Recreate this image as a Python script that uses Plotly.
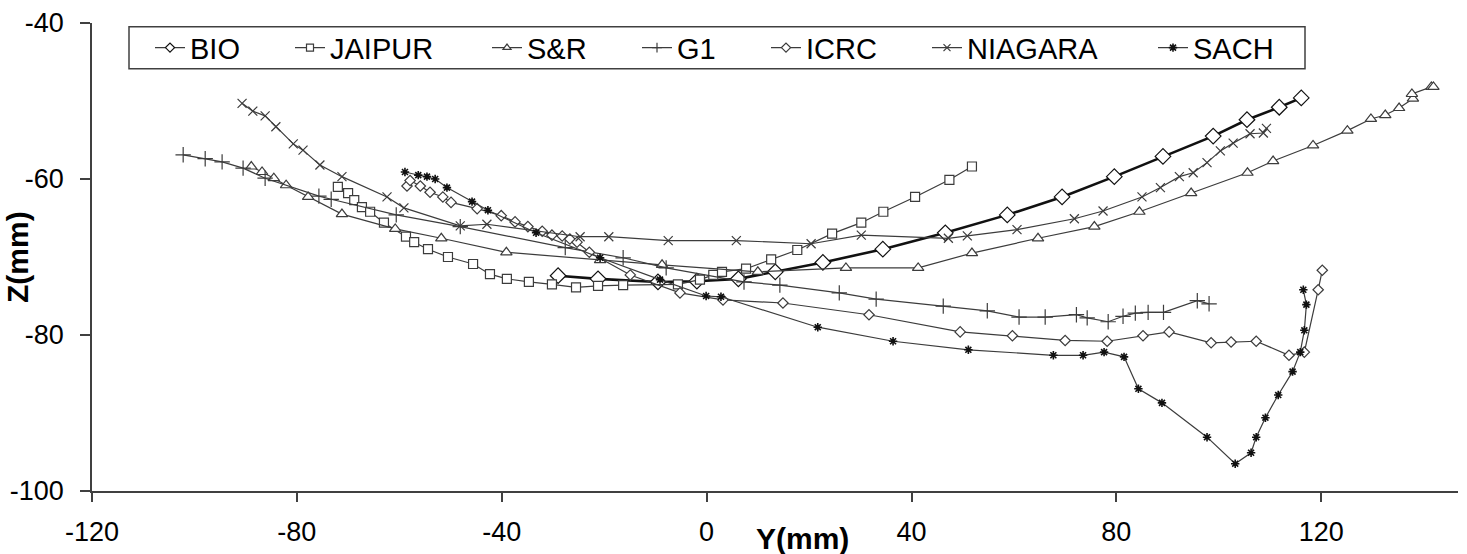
import plotly.graph_objects as go

# ---------------- data (Y in mm, Z in mm) ----------------
series_names = ["BIO", "JAIPUR", "S&R", "G1", "ICRC", "NIAGARA", "SACH"]

BIO_Y = [-29.0, -21.2, -9.5, -1.9, 6.2, 13.4, 22.7, 34.4, 46.6, 58.7, 69.4, 79.6, 89.1, 98.9, 105.5, 111.8, 116.1]
BIO_Z = [-72.4, -72.8, -73.2, -73.1, -72.8, -71.9, -70.7, -69.0, -66.9, -64.6, -62.3, -59.7, -57.1, -54.5, -52.4, -50.8, -49.6]

JAIPUR_Y = [-72.0, -70.0, -68.8, -67.3, -65.7, -63.0, -58.7, -57.1, -54.4, -50.5, -45.6, -42.3, -39.0, -34.7, -30.2,
            -25.5, -21.2, -16.3, -5.6, -1.3, 1.3, 3.0, 7.7, 12.6, 17.7, 24.5, 30.2, 34.5, 40.7, 47.4, 51.8]
JAIPUR_Z = [-61.0, -61.8, -62.7, -63.6, -64.2, -65.6, -67.4, -68.1, -69.0, -70.0, -70.9, -72.2, -72.8, -73.2, -73.5,
            -73.9, -73.7, -73.6, -73.5, -72.9, -72.3, -71.9, -71.5, -70.3, -69.1, -67.0, -65.6, -64.2, -62.3, -60.1, -58.4]

SR_Y = [-88.9, -86.8, -84.5, -82.1, -77.8, -71.2, -60.8, -51.8, -39.1, -20.8, -8.7, 10.0, 27.2, 41.3, 51.8,
        64.7, 75.7, 84.5, 94.6, 105.6, 110.6, 118.4, 125.1, 129.7, 132.5, 135.2, 137.9, 137.7, 141.5, 141.9]
SR_Z = [-58.4, -59.1, -59.9, -60.8, -62.3, -64.5, -66.4, -67.6, -69.4, -70.4, -71.0, -71.9, -71.4, -71.4, -69.5,
        -67.6, -66.1, -64.2, -61.8, -59.2, -57.7, -55.7, -53.8, -52.3, -51.8, -50.9, -49.7, -49.1, -48.2, -48.2]

G1_Y = [-102.2, -97.9, -94.6, -90.5, -86.2, -75.7, -73.3, -60.6, -48.1, -27.6, -16.3, -7.9, 7.3, 14.3, 25.9,
        33.1, 46.2, 54.8, 61.0, 66.1, 72.2, 74.3, 78.4, 81.3, 83.7, 86.2, 89.2, 95.8, 98.1]
G1_Z = [-56.9, -57.4, -57.8, -58.6, -59.9, -62.2, -62.6, -64.6, -66.1, -68.8, -70.1, -71.4, -73.2, -73.6, -74.6,
        -75.4, -76.3, -76.9, -77.7, -77.7, -77.4, -77.8, -78.3, -77.6, -77.2, -77.1, -77.1, -75.6, -76.0]

ICRC_Y = [-58.5, -57.9, -55.9, -54.0, -51.5, -49.9, -44.8, -40.1, -37.4, -34.9, -32.1, -30.2, -28.2, -26.7, -25.3,
          -22.9, -14.9, -5.2, 3.2, 14.9, 31.7, 49.5, 59.7, 70.0, 78.2, 85.2, 90.3, 98.5, 102.4, 107.3, 113.7,
          116.7, 119.4, 120.2]
ICRC_Z = [-60.9, -60.2, -60.9, -61.7, -62.3, -63.0, -63.8, -64.7, -65.5, -66.1, -66.7, -67.2, -67.3, -67.7, -68.1,
          -69.4, -72.3, -74.6, -75.5, -75.9, -77.4, -79.6, -80.1, -80.7, -80.8, -80.1, -79.6, -81.0, -80.9, -80.8, -82.6,
          -82.2, -74.2, -71.7]

NIAGARA_Y = [-90.7, -88.6, -86.2, -84.1, -80.7, -78.8, -75.5, -71.2, -62.4, -59.1, -48.1, -42.9, -24.7, -19.1, -7.5,
             5.8, 20.4, 30.2, 47.2, 50.9, 60.6, 71.8, 77.4, 85.0, 88.6, 92.3, 95.0, 97.7, 100.3, 102.8, 106.1, 108.7, 109.3]
NIAGARA_Z = [-50.3, -51.3, -51.9, -53.3, -55.5, -56.3, -58.2, -59.7, -62.3, -63.7, -66.0, -65.8, -67.4, -67.4, -67.9,
             -67.9, -68.3, -67.2, -67.6, -67.3, -66.5, -65.1, -64.1, -62.3, -61.1, -59.7, -59.2, -57.9, -56.4, -55.4, -54.2, -54.1, -53.5]

SACH_Y = [-58.9, -56.3, -54.6, -53.0, -50.7, -45.8, -42.7, -33.3, -20.8, -9.1, -0.1, 2.8, 21.7, 36.4, 51.1, 67.7,
          73.5, 77.6, 81.5, 84.3, 88.9, 97.7, 103.2, 106.3, 107.3, 109.1, 111.6, 114.4, 115.9, 116.7, 117.1, 116.5]
SACH_Z = [-59.1, -59.5, -59.7, -60.0, -61.1, -62.9, -64.0, -66.9, -70.1, -72.9, -75.0, -75.1, -79.0, -80.8, -81.9, -82.6,
          -82.6, -82.2, -82.8, -86.9, -88.7, -93.1, -96.5, -95.1, -93.1, -90.6, -87.7, -84.7, -82.2, -79.4, -76.1, -74.2]

x_ticks = [-120, -80, -40, 0, 40, 80, 120]
y_ticks = [-100, -80, -60, -40]
x_range = [-120, 146.7]
y_range = [-100, -40]

# ---------------- layout helpers (page pixels; body margin is removed below) ----------------
W, H = 1467, 554
PL, PR, PT, PB = 92, 1458, 23.3, 490.7   # plot area in page pixels


def pxx(px):
    return (px - PL) / (PR - PL)


def pxy(py):
    return 1 - (py - PT) / (PB - PT)


FONT = "Liberation Sans, Arial, sans-serif"
LINE_C = "#3c3c3c"

styles = {
    "BIO": dict(symbol="diamond", size=12, lw=2.6, lc="#111111"),
    "JAIPUR": dict(symbol="square", size=9, lw=1.2, lc=LINE_C),
    "S&R": dict(symbol="triangle-up", size=10, lw=1.2, lc=LINE_C),
    "G1": dict(symbol="cross-thin", size=11, lw=1.2, lc=LINE_C),
    "ICRC": dict(symbol="diamond", size=8, lw=1.2, lc=LINE_C),
    "NIAGARA": dict(symbol="x-thin", size=9, lw=1.2, lc=LINE_C),
    "SACH": dict(symbol="asterisk", size=7, lw=1.2, lc=LINE_C),
}

data = {
    "BIO": (BIO_Y, BIO_Z),
    "JAIPUR": (JAIPUR_Y, JAIPUR_Z),
    "S&R": (SR_Y, SR_Z),
    "G1": (G1_Y, G1_Z),
    "ICRC": (ICRC_Y, ICRC_Z),
    "NIAGARA": (NIAGARA_Y, NIAGARA_Z),
    "SACH": (SACH_Y, SACH_Z),
}

# text start positions of legend entries (page px)
legend_text_px = [192, 332, 529, 679, 808, 969, 1195]


def marker_line(name):
    if name == "SACH":
        return dict(color="#111111", width=1.6)
    return dict(color=styles[name]["lc"], width=1.2)


fig = go.Figure()
for i, name in enumerate(series_names):
    st = styles[name]
    xs, ys = data[name]
    fig.add_trace(go.Scatter(
        x=xs, y=ys, name=name, mode="lines+markers", showlegend=False,
        line=dict(color=st["lc"], width=st["lw"]),
        marker=dict(symbol=st["symbol"], size=st["size"], color="white", line=marker_line(name)),
    ))

# legend entries (small symbols, thin lines, as in the original legend)
for i, name in enumerate(series_names):
    st = styles[name]
    lg = "legend" if i == 0 else f"legend{i + 1}"
    fig.add_trace(go.Scatter(
        x=[None], y=[None], name=name, mode="lines+markers", showlegend=True,
        line=dict(color=LINE_C, width=1.3),
        marker=dict(symbol=st["symbol"], size=7, color="white", line=marker_line(name)),
        legend=lg,
    ))

legend_defs = {}
for i, name in enumerate(series_names):
    key = "legend" if i == 0 else f"legend{i + 1}"
    legend_defs[key] = dict(
        x=pxx(legend_text_px[i] - 42), xanchor="left", xref="paper",
        y=pxy(48), yanchor="middle", yref="paper",
        orientation="h", bgcolor="rgba(0,0,0,0)", borderwidth=0,
        font=dict(family=FONT, size=29, color="black"),
        itemsizing="trace",
    )

fig.update_layout(
    width=W, height=H,
    margin=dict(l=PL, r=W - PR, t=PT, b=H - PB, autoexpand=False),
    paper_bgcolor="white", plot_bgcolor="white",
    font=dict(family=FONT, color="black"),
    showlegend=True,
    **legend_defs,
    xaxis=dict(
        range=x_range, tickvals=x_ticks, ticktext=[str(v) for v in x_ticks],
        showgrid=False, zeroline=False, showline=True, linecolor="#404040", linewidth=1.5,
        ticks="outside", ticklen=9, tickwidth=1.5, tickcolor="#404040", automargin=False,
        tickfont=dict(family=FONT, size=27, color="black"), ticklabelstandoff=7,
    ),
    yaxis=dict(
        range=y_range, tickvals=y_ticks, ticktext=[str(v) for v in y_ticks],
        showgrid=False, zeroline=False, showline=True, linecolor="#404040", linewidth=1.5,
        ticks="outside", ticklen=10, tickwidth=1.5, tickcolor="#404040", automargin=False,
        tickfont=dict(family=FONT, size=27, color="black"), ticklabelstandoff=11,
    ),
    shapes=[dict(type="rect", xref="paper", yref="paper",
                 x0=pxx(129), x1=pxx(1305), y0=pxy(69), y1=pxy(27),
                 line=dict(color="#404040", width=1.5), fillcolor="rgba(0,0,0,0)")],
    annotations=[
        dict(text="<b>Y(mm)</b>", xref="paper", yref="paper", x=pxx(802), y=pxy(538),
             xanchor="center", yanchor="middle", showarrow=False,
             font=dict(family=FONT, size=30, color="black")),
        dict(text="<b>Z(mm)</b>", xref="paper", yref="paper", x=pxx(17), y=pxy(257),
             xanchor="center", yanchor="middle", showarrow=False, textangle=-90,
             font=dict(family=FONT, size=30, color="black")),
    ],
)

fig.write_html(
    "out.html",
    config={"displayModeBar": False},
    post_script="document.body.style.margin='0px';document.body.style.overflow='hidden';",
)
